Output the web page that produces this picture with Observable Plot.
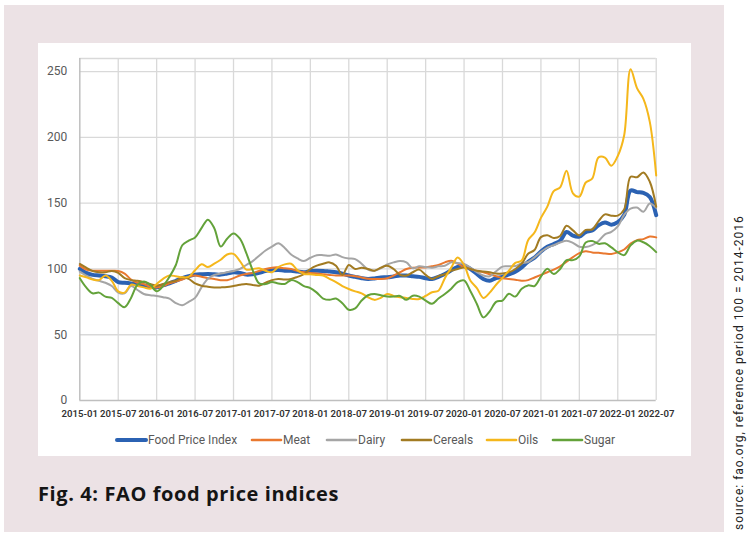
<!DOCTYPE html>
<html>
<head>
<meta charset="utf-8">
<script src="https://cdn.jsdelivr.net/npm/d3@7"></script>
<script src="https://cdn.jsdelivr.net/npm/@observablehq/plot@0.6"></script>
<style>
  html, body { margin: 0; padding: 0; background: #ffffff; }
  #page { position: relative; width: 750px; height: 540px; overflow: hidden; font-family: Roboto, "Noto Sans", sans-serif; }
  #pink { position: absolute; left: 4px; top: 5px; width: 720px; height: 527px; background: #ece2e5; }
  #card { position: absolute; left: 38px; top: 43px; width: 653px; height: 413px; background: #ffffff; }
  #chart { position: absolute; left: 0; top: 0; }
  #legend { position: absolute; left: 0; top: 0; width: 653px; height: 413px; pointer-events: none; }
  #caption { position: absolute; left: 38px; top: 484px; line-height: 20px; font-family: "Open Sans", Lato, sans-serif; font-weight: 700; font-size: 20px; letter-spacing: 0.6px; color: #151515; white-space: nowrap; }
  #source { position: absolute; left: 733px; top: 530px; transform-origin: 0 0; transform: rotate(-90deg); font-family: Roboto, sans-serif; font-size: 12px; letter-spacing: 1px; line-height: 1; color: #222; white-space: nowrap; }
</style>
</head>
<body>
<div id="page">
  <div id="pink"></div>
  <div id="card">
    <div id="chart"></div>
    <svg id="legend" width="653" height="413"></svg>
  </div>
  <div id="caption">Fig. 4: FAO food price indices</div>
  <div id="source">source: fao.org, reference period 100 = 2014-2016</div>
</div>
<script>
// ---- data (monthly, 2015-01 … 2022-07) ----
const xTickLabels = ["2015-01","2015-07","2016-01","2016-07","2017-01","2017-07","2018-01","2018-07","2019-01","2019-07","2020-01","2020-07","2021-01","2021-07","2022-01","2022-07"];
const yTicks = [0, 50, 100, 150, 200, 250];

const foodPriceIndex = [
  100, 97, 95.5, 95, 94.5, 93.5, 90, 89.5, 89, 88.5, 87.5, 86.5,
  86, 87.5, 89, 91, 93, 94.5, 95.7, 96, 96.2, 96, 95.7, 96.5,
  97.5, 97, 95.7, 96, 97, 98.5, 99, 99.2, 98.7, 98.7, 98, 97.5,
  98.5, 98.7, 98.5, 98, 97.5, 96.5, 95, 94, 93, 92.4, 92.8, 93.5,
  93.7, 94.3, 95, 95, 94.5, 94, 93, 92.4, 94, 96.2, 99, 101.5,
  102.5, 100, 96.2, 92.4, 91.0, 93.1, 94.0, 95.9, 97.9, 101.2, 105.5, 108.6,
  113.3, 116.9, 119.0, 121.4, 128.1, 125.3, 124.6, 128.0, 129.2, 133.2, 135.3, 133.7,
  135.6, 141.1, 159.7, 158.4, 157.9, 154.7, 140.9
];
const meat = [
  102.5, 99.5, 98.7, 98.7, 98.7, 98.7, 98.5, 96.5, 92, 89.5, 88.5, 86.5,
  86, 87, 89, 90.5, 92, 94, 95, 94, 93, 92.4, 91.5, 91.5,
  93, 95, 96.2, 97, 98.5, 100, 101, 101.2, 100.5, 100, 98.5, 97.5,
  97, 96.5, 96, 95.5, 95, 95, 95, 94.5, 93.5, 92.5, 92.4, 92.4,
  93, 95, 97.5, 100, 101, 101.2, 101.2, 102, 103, 105, 106.3, 104,
  101.5, 100, 98.5, 97.5, 96, 94.5, 93, 92.4, 91.8, 91.1, 91.5, 93.5,
  95.5, 97.5, 99.5, 102, 105.5, 109, 112, 113.4, 112.6, 112.3, 111.8, 111.4,
  112.6, 114.8, 119.3, 121.9, 122.7, 124.7, 124.0
];
const dairy = [
  98, 95, 92.5, 91, 89.5, 87, 82, 81.5, 87, 84, 81, 80,
  79.5, 78.5, 77.5, 74, 72.5, 75, 78, 86, 92.5, 95.5, 96.5, 97.5,
  98.5, 100, 103, 106, 110, 114, 117, 119.5, 116, 111, 108, 106,
  108.5, 110.5, 110.5, 110, 111, 109, 108, 107.5, 104, 99.5, 98.7, 100.5,
  103.5, 105, 106, 105, 100.5, 102, 101.5, 101, 102, 102.5, 105, 104.5,
  103.8, 101, 97.5, 95, 94.4, 98.3, 101.8, 102, 102.2, 104.4, 105.3, 108.8,
  113.0, 116.3, 118.0, 120.1, 121.5, 119.9, 116.9, 116.7, 118.1, 121.3, 126.3, 128.2,
  132.3, 141.1, 145.8, 146.7, 143.5, 149.8, 146.4
];
const cereals = [
  103.8, 101, 98.5, 97.5, 97.5, 98.5, 97, 93, 91.5, 91, 90, 88.5,
  87.5, 88.5, 90, 91, 93.5, 92.5, 89, 87.3, 86.5, 86, 86, 86.2,
  87, 88, 88.6, 87.8, 87.3, 89.5, 91.5, 92.4, 92, 92.4, 94, 96,
  100, 102.5, 104, 105, 102.5, 95.5, 103, 100, 101, 100, 98.7, 101,
  102.5, 100, 95.5, 95, 97.5, 99.5, 95.5, 92.4, 94.5, 96, 98.7, 100,
  101.2, 100, 98.7, 98, 97.5, 96.5, 96.5, 97.5, 100, 104, 111.6, 114.4,
  124.2, 125.7, 123.6, 125.1, 132.8, 129.3, 125.5, 129.7, 130.0, 136.3, 141.5, 140.5,
  140.6, 145.3, 170.1, 169.7, 173.4, 166.3, 147.3
];
const oils = [
  95, 93.7, 92, 91.5, 95, 91, 83, 82, 88, 87, 86, 85,
  88.5, 92.5, 95, 94.5, 93.7, 94, 99, 103.5, 101.5, 104, 107, 111,
  111.5, 106, 99.5, 100, 100.5, 98.7, 97.5, 101.5, 103.5, 104, 99, 96.2,
  96, 95.5, 95, 92.5, 90, 87, 84.8, 83, 81.5, 78.5, 76.5, 78,
  81, 79.5, 78.5, 78, 77.2, 77.2, 79.5, 82.3, 83.5, 93, 101, 108.7,
  103, 91, 85.5, 78, 82, 88, 93.2, 98.7, 104.6, 106.4, 121.9, 127.7,
  138.8, 147.4, 159.2, 162.0, 174.7, 157.5, 155.0, 165.7, 168.6, 184.8, 184.6, 178.5,
  185.9, 201.7, 251.8, 237.5, 229.3, 211.8, 171.1
];
const sugar = [
  93, 86, 81.5, 82, 79, 78, 74, 71, 78, 88, 90.5, 88,
  83, 87, 94, 103, 118, 121.5, 124, 131, 137.5, 131, 117, 123,
  127, 123, 112, 99, 89, 88.5, 90, 89, 88.6, 91.5, 90, 87,
  85.5, 82, 77.5, 76.5, 77.5, 74, 69, 70, 76, 80, 81, 80,
  79, 79, 79.5, 76.5, 79.7, 79, 76, 73.5, 77.5, 81, 85, 90,
  91.3, 83, 73.4, 63.2, 67.8, 75.0, 76.0, 81.1, 79.0, 85.0, 87.5, 87.0,
  94.2, 100.2, 96.2, 100.0, 106.7, 106.7, 109.6, 120.1, 121.2, 119.1, 119.5, 116.4,
  112.7, 110.5, 117.9, 121.5, 120.3, 117.3, 112.8
];

const seriesNames = ["Food Price Index", "Meat", "Dairy", "Cereals", "Oils", "Sugar"];
const seriesValues = [foodPriceIndex, meat, dairy, cereals, oils, sugar];
const seriesColors = ["#2b62b3", "#e9782f", "#a5a5a5", "#a27b22", "#f5b71b", "#63a23a"];
const seriesWidths = [4, 2, 2, 2, 2, 2];

// ---- chart ----
const W = 653, H = 380;
const xTickIdx = xTickLabels.map((_, k) => k * 6);
const lastIdx = foodPriceIndex.length - 1;

const chart = Plot.plot({
  width: W,
  height: H,
  marginLeft: 41.3,
  marginRight: 35.3,
  marginTop: 15,
  marginBottom: 23,
  style: { fontFamily: "Roboto, sans-serif", background: "transparent", overflow: "visible" },
  x: { type: "linear", domain: [0, lastIdx], label: null },
  y: { domain: [0, 260], label: null },
  marks: [
    Plot.ruleX(xTickIdx.slice(1), { stroke: "#d9d9d9", strokeWidth: 1.3 }),
    Plot.ruleY(yTicks.slice(1).concat([260]), { stroke: "#d9d9d9", strokeWidth: 1.3 }),
    Plot.ruleX([0], { stroke: "#bfbfbf", strokeWidth: 1.5 }),
    Plot.ruleY([0], { stroke: "#bfbfbf", strokeWidth: 1.5 }),
    Plot.axisX(xTickIdx, {
      tickSize: 0, tickPadding: 10, fontSize: 9.6, fontWeight: 600, color: "#333333",
      tickFormat: (i) => xTickLabels[Math.round(i / 6)], label: null
    }),
    Plot.axisY(yTicks, { tickSize: 0, tickPadding: 12.6, fontSize: 12, color: "#595959", label: null }),
    ...seriesValues.map((vals, s) =>
      Plot.line(vals, {
        x: (d, i) => i,
        y: (d) => d,
        stroke: seriesColors[s],
        strokeWidth: seriesWidths[s],
        curve: "catmull-rom"
      })
    )
  ]
});
document.getElementById("chart").appendChild(chart);

// ---- legend (line swatches) ----
const legendX = [79, 214, 289, 364, 449, 515]; // swatch starts relative to card
const legendY = 397;
const svg = d3.select("#legend");
seriesNames.forEach((name, s) => {
  const g = svg.append("g").attr("transform", `translate(${legendX[s]},${legendY})`);
  g.append("line").attr("x1", 0).attr("x2", 29).attr("y1", 0).attr("y2", 0)
    .attr("stroke", seriesColors[s]).attr("stroke-width", seriesWidths[s] === 4 ? 4 : 2.6)
    .attr("stroke-linecap", "round");
  g.append("text").attr("x", 31).attr("y", 0).attr("dy", "0.35em")
    .attr("font-family", "Roboto, sans-serif").attr("font-size", 12).attr("fill", "#595959")
    .text(name);
});
</script>
</body>
</html>
